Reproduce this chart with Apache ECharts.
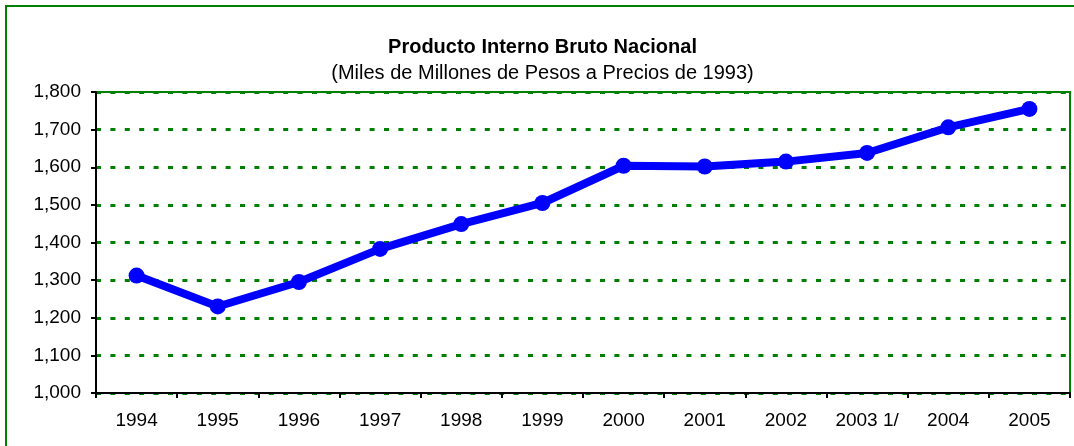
<!DOCTYPE html>
<html>
<head>
<meta charset="utf-8">
<script src="https://cdn.jsdelivr.net/npm/echarts@6/dist/echarts.min.js"></script>
<style>
  html, body { margin: 0; padding: 0; background: #fff; }
  #chart { width: 1074px; height: 446px; }
</style>
</head>
<body>
<div id="chart"></div>
<script>
// datos
const years = ["1994", "1995", "1996", "1997", "1998", "1999", "2000", "2001", "2002", "2003 1/", "2004", "2005"];
const pib = [1312, 1230, 1295, 1383, 1449, 1505, 1604, 1602, 1615, 1638, 1706, 1755];
const yTicks = [1000, 1100, 1200, 1300, 1400, 1500, 1600, 1700, 1800];

const green = "#008000";
const font = "Arial, 'Liberation Sans', sans-serif";

const chart = echarts.init(document.getElementById("chart"), null, { renderer: "canvas" });

chart.setOption({
  animation: false,
  title: [
    {
      text: "Producto Interno Bruto Nacional",
      left: 537.5,
      top: 32,
      textAlign: "center",
      textStyle: { fontFamily: font, fontSize: 20, fontWeight: "bold", color: "#000" },
    },
    {
      text: "(Miles de Millones de Pesos a Precios de 1993)",
      left: 537.5,
      top: 58,
      textAlign: "center",
      textStyle: { fontFamily: font, fontSize: 20, fontWeight: "normal", color: "#000" },
    },
  ],
  graphic: [
    {
      type: "rect",
      shape: { x: 6, y: 6, width: 1100, height: 500 },
      style: { fill: "none", stroke: green, lineWidth: 2 },
      silent: true,
    },
  ],
  grid: {
    left: 96,
    right: 4,
    top: 92,
    bottom: 53,
    show: true,
    borderColor: green,
    borderWidth: 2,
    backgroundColor: "transparent",
  },
  xAxis: {
    type: "category",
    data: years,
    boundaryGap: true,
    axisLine: { show: true, lineStyle: { color: "#000", width: 2 } },
    axisTick: { show: true, interval: 0, length: 5, lineStyle: { color: "#000", width: 2 } },
    axisLabel: { interval: 0, margin: 18, color: "#000", fontFamily: font, fontSize: 19 },
    splitLine: { show: false },
  },
  yAxis: {
    type: "value",
    min: yTicks[0],
    max: yTicks[yTicks.length - 1],
    interval: 100,
    axisLine: { show: true, lineStyle: { color: "#000", width: 2 } },
    axisTick: { show: true, length: 5, lineStyle: { color: "#000", width: 2 } },
    axisLabel: {
      margin: 15,
      color: "#000",
      fontFamily: font,
      fontSize: 19,
      formatter: function (v) { return v.toLocaleString("en-US"); },
    },
    splitLine: {
      show: true,
      lineStyle: { color: green, width: 3, type: [5, 9.4] },
    },
  },
  series: [
    {
      name: "PIB",
      type: "line",
      data: pib,
      symbol: "circle",
      symbolSize: 16,
      lineStyle: { color: "#0000ff", width: 8 },
      itemStyle: { color: "#0000ff" },
      z: 5,
    },
  ],
});
</script>
</body>
</html>
